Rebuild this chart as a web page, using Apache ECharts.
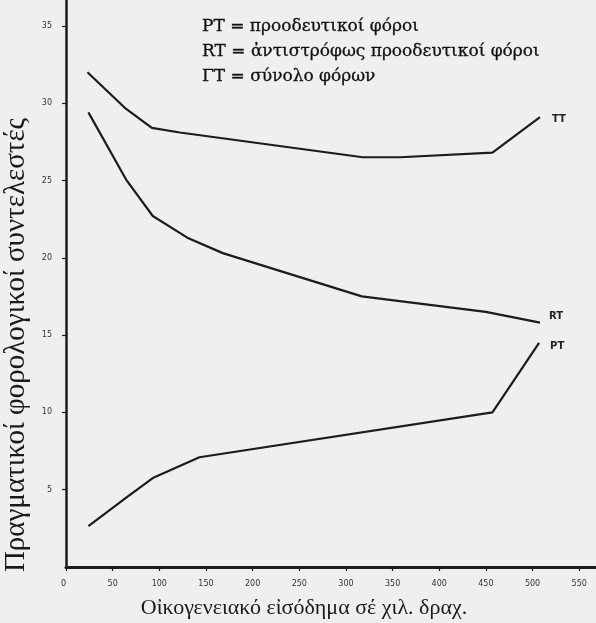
<!DOCTYPE html>
<html>
<head>
<meta charset="utf-8">
<script src="https://cdn.jsdelivr.net/npm/echarts@6/dist/echarts.min.js"></script>
<style>
html,body{margin:0;padding:0;background:#efefef;}
#chart{width:596px;height:623px;}
</style>
</head>
<body>
<div id="chart"></div>
<script>
// Data
const ttIncome = [23, 63, 92, 122, 318, 358, 457, 508];
const ttRate   = [32.0, 29.7, 28.4, 28.1, 26.5, 26.5, 26.8, 29.1];
const rtIncome = [24, 65, 93, 130, 168, 317, 450, 508];
const rtRate   = [29.4, 25.0, 22.7, 21.3, 20.3, 17.5, 16.5, 15.8];
const ptIncome = [24, 66, 93, 143, 457, 507];
const ptRate   = [2.65, 4.55, 5.75, 7.1, 10.0, 14.5];
const legendLines = [
  'PT = προοδευτικοί φόροι',
  'RT = ἀντιστρόφως προοδευτικοί φόροι',
  'ΓΤ = σύνολο φόρων'
];
const seriesNames = ['TT', 'RT', 'PT'];
const xTitle = 'Οἰκογενειακό εἰσόδημα σέ χιλ. δραχ.';
const yTitle = 'Πραγματικοί φορολογικοί συντελεστές';

const pairs = (xs, ys) => xs.map((x, i) => [x, ys[i]]);
const ink = '#1c1c1c';

function lineSeries(name, data, offset) {
  return {
    name: name,
    type: 'line',
    data: data,
    symbol: 'none',
    smooth: false,
    lineStyle: { color: ink, width: 2.2 },
    endLabel: {
      show: true,
      formatter: name,
      offset: offset,
      color: '#222',
      fontFamily: 'DejaVu Sans',
      fontWeight: 'bold',
      fontSize: 10
    }
  };
}

const chart = echarts.init(document.getElementById('chart'), null, { renderer: 'canvas' });
chart.setOption({
  backgroundColor: '#efefef',
  animation: false,
  title: {
    text: legendLines.join('\n'),
    left: 197,
    top: 9,
    textStyle: {
      fontFamily: 'DejaVu Serif',
      fontSize: 17,
      fontWeight: 'normal',
      color: '#111',
      lineHeight: 25,
      textBorderColor: '#111',
      textBorderWidth: 0.3
    }
  },
  grid: { left: 66, right: 0, top: 0, bottom: 56, containLabel: false, outerBoundsMode: 'none' },
  xAxis: {
    type: 'value',
    min: 0,
    max: 568,
    interval: 50,
    name: xTitle,
    nameLocation: 'middle',
    nameGap: 30,
    nameTextStyle: {
      fontFamily: 'Liberation Serif',
      fontSize: 22,
      color: '#1a1a1a',
      padding: [0, 54, 0, 0]
    },
    axisLine: { lineStyle: { color: ink, width: 3 } },
    axisTick: { show: true, length: 4, lineStyle: { color: ink, width: 1.2 } },
    axisLabel: {
      showMaxLabel: false,
      alignMinLabel: 'right',
      margin: 13,
      fontSize: 8,
      fontFamily: 'DejaVu Sans',
      color: '#333'
    },
    splitLine: { show: false }
  },
  yAxis: {
    type: 'value',
    min: 0,
    max: 36.67,
    interval: 5,
    name: yTitle,
    nameLocation: 'middle',
    nameGap: 31,
    nameTextStyle: {
      fontFamily: 'Liberation Serif',
      fontSize: 29,
      color: '#1a1a1a',
      padding: [0, 123, 0, 0]
    },
    axisLine: { lineStyle: { color: ink, width: 2.5 } },
    axisTick: { show: true, length: 4, lineStyle: { color: ink, width: 1.2 } },
    axisLabel: {
      showMinLabel: false,
      showMaxLabel: false,
      margin: 14,
      fontSize: 8,
      fontFamily: 'DejaVu Sans',
      color: '#333'
    },
    splitLine: { show: false }
  },
  series: [
    lineSeries(seriesNames[0], pairs(ttIncome, ttRate), [4, 2]),
    lineSeries(seriesNames[1], pairs(rtIncome, rtRate), [1, -6]),
    lineSeries(seriesNames[2], pairs(ptIncome, ptRate), [3, 4])
  ]
});
</script>
</body>
</html>
